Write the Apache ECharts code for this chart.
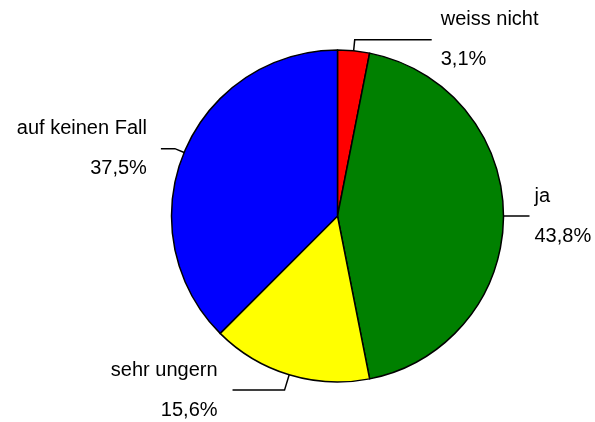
<!DOCTYPE html>
<html>
<head>
<meta charset="utf-8">
<script src="https://cdn.jsdelivr.net/npm/echarts@6/dist/echarts.min.js"></script>
<style>
  html, body { margin: 0; padding: 0; background: #fff; }
  #chart { width: 595px; height: 422px; }
</style>
</head>
<body>
<div id="chart"></div>
<script>
// answers, clockwise from 12 o'clock
const categories = ["weiss nicht", "ja", "sehr ungern", "auf keinen Fall"];
const shares = [3.1, 43.8, 15.6, 37.5];
const colors = ["#ff0000", "#008000", "#ffff00", "#0000ff"];

// leader line tweaks per slice: [length, length2, gap to text]
// (left side ones come out swapped in the layout, so they are swapped here too)
const leaders = [[11, 77, 9], [10, 16, 5], [16, 52, 15], [10, 14, 14]];

let chart = echarts.init(document.getElementById("chart"), null, { renderer: "canvas" });

const fmt = v => v.toFixed(1).replace(".", ",") + "%";

const data = categories.map((name, i) => ({
    name: name,
    value: shares[i],
    itemStyle: { color: colors[i] },
    label: { distanceToLabelLine: leaders[i][2] },
    labelLine: { length: leaders[i][0], length2: leaders[i][1] }
}));

chart.setOption({
    animation: false,
    backgroundColor: "#fff",
    series: [{
        type: "pie",
        center: [337.5, 216],
        radius: 166,
        startAngle: 90,
        clockwise: true,
        avoidLabelOverlap: false,
        data: data,
        itemStyle: { borderColor: "#000", borderWidth: 1.5 },
        emphasis: { disabled: true },
        label: {
            show: true,
            position: "outside",
            formatter: p => `{n|${p.name}}\n{p|${fmt(p.value)}}`,
            rich: {
                n: { fontFamily: "Liberation Sans", fontSize: 20, color: "#000", lineHeight: 40 },
                p: { fontFamily: "Liberation Sans", fontSize: 20, color: "#000", lineHeight: 40 }
            }
        },
        labelLine: {
            show: true,
            smooth: false,
            lineStyle: { color: "#000", width: 1.5 }
        }
    }]
});
</script>
</body>
</html>
